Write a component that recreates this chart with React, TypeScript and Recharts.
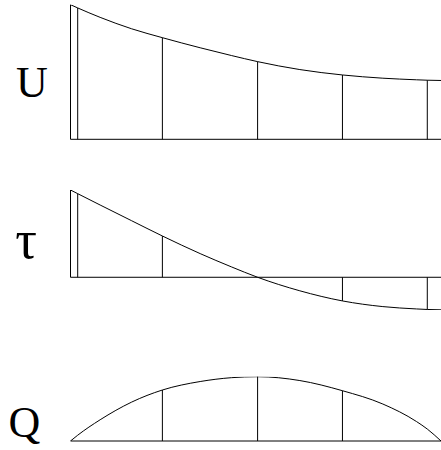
import React from "react";
import { LineChart, Line, XAxis, YAxis, ReferenceLine } from "recharts";

// Positions along the span (0 = left support, 1 = right end)
const positions = [0, 0.0194, 0.08, 0.165, 0.248, 0.35, 0.435, 0.505, 0.619, 0.734, 0.843, 0.934, 0.963, 1];

// Normalised distributions along the span
const uValues = [1, 0.976, 0.906, 0.821, 0.755, 0.68, 0.622, 0.577, 0.518, 0.478, 0.454, 0.442, 0.439, 0.437];
const tauValues = [1, 0.958, 0.828, 0.648, 0.473, 0.271, 0.118, 0, -0.155, -0.271, -0.336, -0.363, -0.369, -0.373];
const qValues = [0, 0.09, 0.33, 0.605, 0.793, 0.925, 0.985, 1, 0.94, 0.782, 0.575, 0.302, 0.186, 0];

// Stations where ordinates are drawn
const uStations = [0, 0.0194, 0.248, 0.505, 0.734, 0.963];
const tauStations = [0, 0.0194, 0.248, 0.734, 0.963];
const qStations = [0.248, 0.505, 0.734];

// Panel labels
const panelLabels = ["U", "τ", "Q"];

const W = 441;
const SERIF = "Liberation Serif, DejaVu Serif, Times New Roman, serif";

type PanelProps = {
  top: number;
  height: number;
  marginTop: number;
  marginBottom: number;
  domain: [number, number];
  values: number[];
  stations: number[];
};

function Panel({ top, height, marginTop, marginBottom, domain, values, stations }: PanelProps) {
  const rows = positions.map((x, i) => ({ x, v: values[i] }));
  const valueAt = (x: number) => values[positions.indexOf(x)];
  return (
    <div style={{ position: "absolute", left: 0, top, width: W, height }}>
      <LineChart
        width={W}
        height={height}
        data={rows}
        margin={{ top: marginTop, right: 0, bottom: marginBottom, left: 70.5 }}
      >
        <XAxis type="number" dataKey="x" domain={[0, 1]} hide />
        <YAxis type="number" domain={domain} hide allowDataOverflow />
        <ReferenceLine y={0} stroke="#000" strokeWidth={1} />
        {stations.map((x) => (
          <ReferenceLine
            key={x}
            segment={[
              { x, y: 0 },
              { x, y: valueAt(x) },
            ]}
            stroke="#000"
            strokeWidth={1}
          />
        ))}
        <Line
          type="monotone"
          dataKey="v"
          stroke="#000"
          strokeWidth={1}
          dot={false}
          activeDot={false}
          isAnimationActive={false}
        />
      </LineChart>
    </div>
  );
}

export default function App() {
  return (
    <div
      style={{
        position: "absolute",
        left: 0,
        top: 0,
        width: W,
        height: 450,
        overflow: "hidden",
        background: "#fff",
      }}
    >
      <Panel top={0} height={150} marginTop={4.7} marginBottom={10.7} domain={[0, 1]} values={uValues} stations={uStations} />
      <Panel top={150} height={170} marginTop={40} marginBottom={10} domain={[-0.375, 1]} values={tauValues} stations={tauStations} />
      <Panel top={320} height={130} marginTop={56.7} marginBottom={9} domain={[0, 1]} values={qValues} stations={qStations} />
      <svg
        width={W}
        height={450}
        style={{ position: "absolute", left: 0, top: 0, pointerEvents: "none" }}
      >
        <text x={32} y={97} textAnchor="middle" fontFamily={SERIF} fontSize={44} fill="#000">
          {panelLabels[0]}
        </text>
        <text x={26} y={258} textAnchor="middle" fontFamily={SERIF} fontSize={54} fill="#000">
          {panelLabels[1]}
        </text>
        <text x={24.5} y={437} textAnchor="middle" fontFamily={SERIF} fontSize={44} fill="#000">
          {panelLabels[2]}
        </text>
      </svg>
    </div>
  );
}
